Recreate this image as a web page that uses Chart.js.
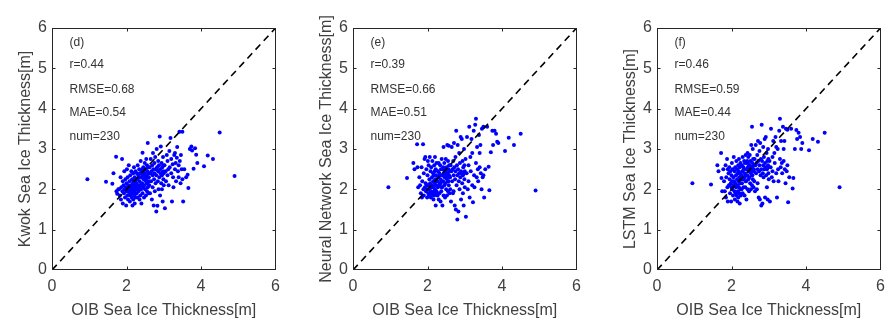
<!DOCTYPE html>
<html>
<head>
<meta charset="utf-8">
<script src="https://cdn.jsdelivr.net/npm/chart.js@4.4.1/dist/chart.umd.min.js"></script>
<style>
  html, body { margin: 0; padding: 0; background: #fff; }
  #wrap { position: relative; width: 892px; height: 320px; overflow: hidden; }
  .panel { position: absolute; top: 0; width: 287px; height: 320px; }
</style>
</head>
<body>
<div id="wrap">
  <div class="panel" style="left:0px"><canvas id="c0"></canvas></div>
  <div class="panel" style="left:301px"><canvas id="c1"></canvas></div>
  <div class="panel" style="left:605px"><canvas id="c2"></canvas></div>
</div>
<script>
// --- Data (same OIB thickness for all three panels) ---
const oibX = [
  0.95, 1.45, 1.62, 1.65, 1.72, 1.73, 1.75, 1.78,
  1.80, 1.82, 1.84, 1.85, 1.86, 1.88, 1.89, 1.90, 1.90, 1.92,
  1.93, 1.94, 1.95, 1.96, 1.97, 1.98, 1.99, 2.00, 2.00, 2.01,
  2.02, 2.02, 2.03, 2.04, 2.05, 2.05, 2.06, 2.07, 2.08, 2.08,
  2.09, 2.10, 2.10, 2.11, 2.12, 2.12, 2.13, 2.14, 2.15, 2.15,
  2.16, 2.16, 2.17, 2.17, 2.18, 2.18, 2.19, 2.19, 2.20, 2.20,
  2.21, 2.21, 2.22, 2.22, 2.23, 2.23, 2.24, 2.24, 2.25, 2.25,
  2.26, 2.27, 2.28, 2.28, 2.29, 2.30, 2.30, 2.31, 2.32, 2.32,
  2.33, 2.34, 2.35, 2.35, 2.36, 2.37, 2.38, 2.38, 2.39, 2.40,
  2.40, 2.41, 2.42, 2.43, 2.43, 2.44, 2.45, 2.45, 2.46, 2.47,
  2.48, 2.48, 2.49, 2.50, 2.50, 2.51, 2.52, 2.52, 2.53, 2.54,
  2.55, 2.55, 2.56, 2.56, 2.57, 2.57, 2.58, 2.58, 2.59, 2.59,
  2.60, 2.45, 2.35, 2.42, 2.52, 2.38, 2.48, 2.33, 2.55, 2.44,
  2.60, 2.61, 2.62, 2.63, 2.64, 2.65, 2.66, 2.67, 2.68, 2.69,
  2.70, 2.70, 2.71, 2.72, 2.73, 2.74, 2.75, 2.75, 2.76, 2.77,
  2.78, 2.79, 2.80, 2.80, 2.81, 2.82, 2.83, 2.84, 2.85, 2.85,
  2.86, 2.87, 2.88, 2.89, 2.90, 2.90, 2.91, 2.92, 2.93, 2.94,
  2.95, 2.95, 2.96, 2.97, 2.98, 2.98, 2.99, 2.99, 3.00, 3.00,
  3.02, 3.03, 3.05, 3.06, 3.08, 3.10, 3.10, 3.12, 3.13, 3.15,
  3.16, 3.18, 3.20, 3.20, 3.22, 3.24, 3.25, 3.26, 3.28, 3.30,
  3.30, 3.32, 3.33, 3.35, 3.36, 3.38, 3.40, 3.40, 3.42, 3.43,
  3.45, 3.46, 3.48, 3.50, 3.50,
  3.52, 3.55, 3.60, 3.64, 3.66, 3.70, 3.74, 3.76, 3.80, 3.84, 3.87, 3.90,
  4.08, 4.18, 4.32, 4.50, 4.90
];

const kwokY = [
  2.25, 2.19, 2.14, 2.40, 2.81, 1.95, 1.89, 2.00,
  2.00, 1.85, 2.30, 1.75, 2.05, 2.75, 1.95, 2.20, 1.65, 2.10,
  1.90, 2.45, 2.00, 1.80, 2.25, 2.05, 1.60, 1.95, 2.15, 2.50,
  1.85, 2.00, 2.30, 1.75, 2.10, 1.95, 2.60, 2.05, 1.90, 2.20,
  1.70, 2.00, 2.35, 1.85, 2.10, 1.95, 2.45, 1.80, 2.05, 2.25,
  1.60, 2.00, 2.15, 1.90, 2.40, 1.75, 2.05, 2.20, 1.95, 2.55,
  1.85, 2.10, 2.30, 1.65, 2.00, 2.20, 1.90, 2.45, 2.05, 1.80,
  2.15, 1.90, 2.40, 2.00, 2.25, 1.80, 2.60, 2.10, 1.95, 2.35,
  2.05, 2.50, 1.75, 2.20, 2.40, 1.85, 2.10, 2.70, 2.00, 2.30,
  1.65, 2.45, 2.15, 2.91, 1.90, 2.35, 2.05, 2.55, 2.25, 1.80,
  2.40, 2.10, 2.65, 2.00, 2.30, 2.50, 1.85, 2.20, 2.75, 2.35,
  1.95, 2.60, 2.15, 2.45, 3.15, 2.05, 2.30, 2.55, 1.90, 2.40,
  2.20, 2.35, 2.10, 2.50, 2.25, 2.00, 2.40, 2.30, 2.15, 2.45,
  2.30, 2.10, 2.55, 1.90, 2.40, 2.75, 2.20, 2.45, 1.75, 2.60,
  2.35, 2.05, 2.90, 2.50, 1.60, 2.25, 2.65, 2.40, 1.95, 2.80,
  2.15, 2.50, 1.45, 2.35, 3.00, 2.55, 1.59, 2.20, 2.45, 2.70,
  2.00, 2.60, 2.30, 3.31, 2.50, 1.85, 2.40, 3.06, 2.15, 2.65,
  2.35, 2.00, 2.55, 1.70, 2.45, 2.80, 2.25, 2.60, 2.40, 2.10,
  2.60, 1.53, 2.45, 2.20, 2.85, 2.70, 2.35, 2.50, 2.10, 2.95,
  2.55, 3.27, 2.40, 2.75, 1.70, 2.62, 2.30, 2.05, 2.85, 2.90,
  2.50, 2.65, 2.20, 2.78, 3.05, 2.45, 2.60, 2.30, 3.43, 2.70,
  2.15, 2.85, 2.50, 3.43, 2.25,
  1.70, 2.50, 2.30, 2.36, 2.03, 3.00, 3.06, 2.96, 2.51, 3.02, 2.86, 2.65,
  2.57, 2.84, 2.75, 3.41, 2.33
];

const nnY = [
  2.05, 2.28, 2.65, 2.50, 3.12, 2.55, 2.05, 2.30,
  2.10, 1.90, 2.55, 1.80, 2.20, 3.12, 2.00, 2.40, 1.85, 2.75,
  2.05, 2.80, 2.15, 1.95, 2.50, 2.10, 1.80, 2.00, 2.35, 2.70,
  1.90, 2.10, 2.60, 1.85, 2.25, 2.00, 2.80, 2.15, 1.95, 2.45,
  1.80, 2.05, 2.55, 1.90, 2.30, 2.10, 2.70, 1.85, 2.20, 2.40,
  1.75, 2.05, 2.35, 1.95, 2.60, 1.85, 2.15, 2.45, 2.00, 2.80,
  1.90, 2.25, 2.50, 1.60, 2.10, 2.35, 1.95, 2.65, 2.20, 1.90,
  2.20, 1.85, 2.45, 2.05, 2.30, 1.75, 2.65, 2.10, 1.90, 2.40,
  2.15, 2.60, 1.70, 2.25, 2.50, 1.95, 2.20, 2.75, 2.05, 2.35,
  1.60, 2.50, 2.20, 3.05, 1.85, 2.40, 2.10, 2.65, 2.30, 1.80,
  2.45, 2.15, 2.75, 2.00, 2.35, 2.55, 1.85, 2.25, 3.10, 2.40,
  1.95, 2.70, 2.20, 2.50, 3.08, 2.10, 2.35, 2.60, 1.90, 2.45,
  2.30, 2.40, 2.15, 2.55, 2.30, 2.05, 2.45, 2.35, 2.20, 2.50,
  2.30, 2.00, 2.60, 1.70, 2.45, 3.05, 2.20, 2.50, 1.90, 2.70,
  2.35, 1.95, 3.15, 2.55, 1.60, 2.25, 2.80, 2.45, 1.50, 3.45,
  2.10, 2.60, 1.25, 2.35, 3.10, 2.50, 1.45, 2.20, 2.40, 2.90,
  2.00, 2.65, 2.30, 3.30, 2.45, 1.75, 2.40, 3.25, 2.15, 2.70,
  2.35, 1.90, 2.55, 1.60, 2.40, 3.00, 2.25, 2.60, 2.45, 2.05,
  2.75, 1.32, 2.40, 3.30, 2.00, 2.60, 2.20, 3.55, 1.80, 2.80,
  2.45, 3.25, 2.10, 2.90, 1.68, 3.45, 2.35, 2.05, 3.60, 3.75,
  2.65, 2.30, 3.05, 2.50, 2.20, 3.35, 2.55, 2.90, 3.10, 2.40,
  2.00, 3.50, 2.30, 3.55, 2.35,
  1.80, 2.50, 3.55, 2.56, 1.98, 2.92, 3.45, 3.10, 3.45, 3.38, 3.18, 3.15,
  2.95, 3.28, 3.10, 3.38, 1.97
];

const lstmY = [
  2.15, 2.12, 2.60, 2.45, 2.90, 2.28, 1.95, 2.50,
  2.20, 1.95, 2.60, 1.80, 2.30, 2.75, 2.05, 2.50, 1.70, 2.40,
  2.10, 2.55, 2.25, 1.90, 2.45, 2.15, 1.70, 2.05, 2.35, 2.65,
  2.00, 2.20, 2.50, 1.85, 2.30, 2.10, 2.80, 2.20, 1.95, 2.45,
  1.75, 2.15, 2.55, 1.90, 2.35, 2.05, 2.70, 1.85, 2.25, 2.50,
  1.70, 2.10, 2.40, 1.95, 2.60, 1.80, 2.20, 2.45, 2.05, 2.75,
  1.90, 2.30, 2.55, 1.65, 2.15, 2.40, 2.00, 2.65, 2.25, 1.85,
  2.35, 2.00, 2.60, 2.15, 2.45, 1.90, 2.80, 2.25, 2.05, 2.55,
  2.30, 2.70, 1.85, 2.40, 2.65, 2.05, 2.35, 2.85, 2.20, 2.50,
  1.75, 2.65, 2.35, 2.90, 2.00, 2.55, 2.25, 2.80, 2.45, 1.95,
  2.60, 2.30, 2.85, 2.15, 2.50, 2.70, 2.00, 2.40, 3.10, 2.55,
  2.10, 3.55, 2.35, 2.65, 3.00, 2.25, 2.50, 2.75, 2.05, 2.60,
  2.45, 2.55, 2.30, 2.70, 2.45, 2.20, 2.60, 2.50, 2.35, 2.65,
  2.50, 2.20, 2.75, 1.95, 2.60, 3.10, 2.40, 2.65, 2.00, 2.85,
  2.50, 2.15, 3.20, 2.70, 1.80, 2.45, 2.95, 2.60, 1.75, 3.15,
  2.35, 2.75, 1.60, 2.50, 3.60, 2.70, 1.65, 2.40, 2.60, 3.05,
  2.30, 2.80, 2.50, 3.25, 2.65, 1.80, 2.55, 3.30, 2.35, 2.90,
  2.50, 2.05, 2.70, 1.75, 2.60, 3.00, 2.40, 2.75, 2.55, 2.25,
  2.70, 1.70, 2.55, 3.50, 2.30, 2.80, 2.45, 3.20, 2.20, 2.90,
  2.65, 3.30, 2.40, 3.05, 1.80, 3.00, 2.50, 2.20, 3.45, 3.75,
  2.75, 2.55, 3.20, 2.65, 2.40, 3.55, 2.70, 3.00, 3.20, 2.50,
  2.15, 3.50, 2.45, 3.48, 2.60,
  1.68, 2.30, 3.50, 2.02, 2.28, 3.00, 3.47, 3.25, 3.40, 3.30, 3.00, 3.15,
  2.97, 3.25, 3.18, 3.40, 2.05
];

const panelTags = ['(d)', '(e)', '(f)'];
const yTitles = ['Kwok Sea Ice Thickness[m]', 'Neural Network Sea Ice Thickness[m]', 'LSTM Sea Ice Thickness[m]'];
const rVals = ['0.44', '0.39', '0.46'];
const rmseVals = ['0.68', '0.66', '0.59'];
const maeVals = ['0.54', '0.51', '0.44'];
const numVals = ['230', '230', '230'];
const diagonal = [0, 6];
const xTicks = [0, 2, 4, 6];
const yTicks = [0, 1, 2, 3, 4, 5, 6];

const FONT = '"Liberation Sans", Arial, Helvetica, sans-serif';

// --- frame, inner ticks and stats text (MATLAB-like box) ---
const boxPlugin = {
  id: 'box',
  afterDatasetsDraw(chart, args, opts) {
    const { ctx, chartArea: a, scales: { x, y } } = chart;
    const L = Math.round(a.left) + 0.5, R = Math.round(a.right) - 0.5;
    const T = Math.round(a.top) + 0.5, B = Math.round(a.bottom) - 0.5;
    ctx.save();
    ctx.strokeStyle = '#262626';
    ctx.lineWidth = 1;
    ctx.strokeRect(L, T, R - L, B - T);
    const tl = 3;
    ctx.beginPath();
    xTicks.slice(1, -1).forEach(v => {
      const px = Math.round(x.getPixelForValue(v)) + 0.5;
      ctx.moveTo(px, B); ctx.lineTo(px, B - tl);
      ctx.moveTo(px, T); ctx.lineTo(px, T + tl);
    });
    yTicks.slice(1, -1).forEach(v => {
      const py = Math.round(y.getPixelForValue(v)) + 0.5;
      ctx.moveTo(L, py); ctx.lineTo(L + tl, py);
      ctx.moveTo(R, py); ctx.lineTo(R - tl, py);
    });
    ctx.stroke();

    ctx.fillStyle = '#333';
    ctx.font = '12px ' + FONT;
    ctx.textBaseline = 'middle';
    ctx.textAlign = 'left';
    const tx = x.getPixelForValue(0.47);
    const rows = opts.lines || [];
    const rowY = [5.64, 5.09, 4.47, 3.9, 3.3];
    rows.forEach((t, i) => ctx.fillText(t, tx, y.getPixelForValue(rowY[i])));
    ctx.restore();
  }
};

function makePanel(idx, ys) {
  const pts = oibX.map((v, i) => ({ x: v, y: ys[i] }));
  const ctx = document.getElementById('c' + idx).getContext('2d');
  return new Chart(ctx, {
    type: 'scatter',
    data: {
      datasets: [
        {
          data: diagonal.map(v => ({ x: v, y: v })),
          showLine: true,
          borderColor: '#000',
          borderWidth: 1.6,
          borderDash: [7, 5],
          pointRadius: 0,
          fill: false
        },
        {
          data: pts,
          pointRadius: 2,
          pointBorderWidth: 0,
          pointBackgroundColor: '#0000ff',
          borderColor: '#0000ff'
        }
      ]
    },
    options: {
      responsive: true,
      maintainAspectRatio: false,
      animation: false,
      events: [],
      layout: { padding: { top: 28, right: 7, left: 0, bottom: 0 } },
      plugins: {
        legend: { display: false },
        tooltip: { enabled: false },
        box: {
          lines: [
            panelTags[idx],
            'r=' + rVals[idx],
            'RMSE=' + rmseVals[idx],
            'MAE=' + maeVals[idx],
            'num=' + numVals[idx]
          ]
        }
      },
      scales: {
        x: {
          type: 'linear',
          min: 0, max: 6,
          afterFit: s => { s.height = 50; },
          afterBuildTicks: s => { s.ticks = xTicks.map(v => ({ value: v })); },
          grid: { display: false, drawTicks: false },
          border: { display: false },
          ticks: { color: '#404040', font: { family: FONT, size: 16 }, padding: 7 },
          title: {
            display: true,
            text: 'OIB Sea Ice Thickness[m]',
            color: '#404040',
            font: { family: FONT, size: 16 },
            padding: { top: 0, bottom: 0 }
          }
        },
        y: {
          type: 'linear',
          min: 0, max: 6,
          afterFit: s => { s.width = 52; },
          afterBuildTicks: s => { s.ticks = yTicks.map(v => ({ value: v })); },
          grid: { display: false, drawTicks: false },
          border: { display: false },
          ticks: { color: '#404040', font: { family: FONT, size: 16 }, padding: 5 },
          title: {
            display: true,
            text: yTitles[idx],
            color: '#404040',
            font: { family: FONT, size: 16 },
            padding: { top: 16, bottom: 0 }
          }
        }
      }
    },
    plugins: [boxPlugin]
  });
}

makePanel(0, kwokY);
makePanel(1, nnY);
makePanel(2, lstmY);
</script>
</body>
</html>
